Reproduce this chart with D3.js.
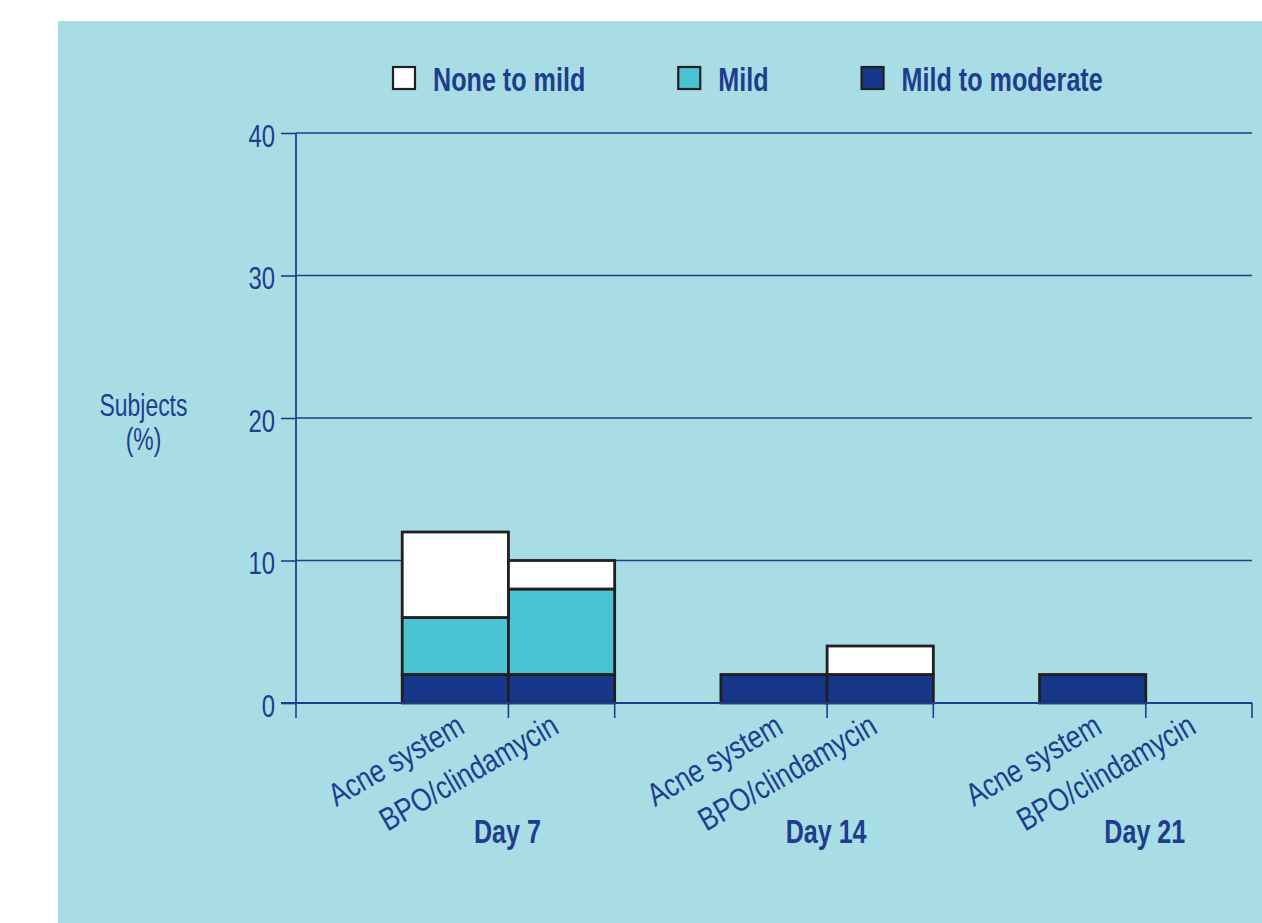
<!DOCTYPE html>
<html>
<head>
<meta charset="utf-8">
<script src="https://cdn.jsdelivr.net/npm/d3@7"></script>
<style>
  body { margin: 0; background: #ffffff; }
  svg text { font-family: "Liberation Sans", Arial, Helvetica, sans-serif; fill: #1f3d8e; }
</style>
</head>
<body>
<svg width="1262" height="923"></svg>
<script>
// data
const days = ["Day 7", "Day 14", "Day 21"];
const treatments = ["Acne system", "BPO/clindamycin"];
// severity levels, stacked bottom to top
const severities = ["Mild to moderate", "Mild", "None to mild"];
// one value per day x treatment (Day 7 acne, Day 7 bpo, Day 14 acne, ...)
const mildToModerate = [2, 2, 2, 2, 2, 0];
const mild = [4, 6, 0, 0, 0, 0];
const noneToMild = [6, 2, 0, 2, 0, 0];
const yTicks = [0, 10, 20, 30, 40];
// legend reads top severity first
const legendOrder = ["None to mild", "Mild", "Mild to moderate"];

let colors = {
  "Mild to moderate": "#17378a",
  "Mild": "#4ac4d3",
  "None to mild": "#ffffff"
};
let ink = "#1f3d8e";

// the original uses a condensed face, so squeeze a normal one sideways
let narrow = function(x, y, sx, angle) {
  return "translate(" + x + "," + y + ")" + (angle ? "rotate(" + angle + ")" : "") + "scale(" + sx + ",1)";
};

let svg = d3.select("svg");

// light blue panel
svg.append("rect")
  .attr("x", 58).attr("y", 21)
  .attr("width", 1262 - 58).attr("height", 923 - 21)
  .attr("fill", "#a8dde6");

let margin = { top: 133, right: 10, bottom: 220, left: 296 };
let plotWidth = 1252 - margin.left;
let plotHeight = 703 - margin.top;

let plot = svg.append("g")
  .attr("transform", "translate(" + margin.left + "," + margin.top + ")");

let yScale = d3.scaleLinear().domain([0, 40]).range([plotHeight, 0]);

// each day group has an empty slot then the two treatments
let dayScale = d3.scaleBand().domain(days).range([0, plotWidth]).padding(0);
let treatScale = d3.scaleBand()
  .domain(treatments)
  .range([dayScale.bandwidth() / 3, dayScale.bandwidth()])
  .padding(0);

// build rows for stacking
let rows = [];
days.forEach((day, i) => {
  treatments.forEach((t, j) => {
    let k = i * treatments.length + j;
    rows.push({
      day: day,
      treatment: t,
      "Mild to moderate": mildToModerate[k],
      "Mild": mild[k],
      "None to mild": noneToMild[k]
    });
  });
});

let series = d3.stack().keys(severities)(rows);

// gridlines
plot.append("g").selectAll("line")
  .data(yTicks.filter(d => d > 0))
  .join("line")
  .attr("x1", 0).attr("x2", plotWidth)
  .attr("y1", d => yScale(d)).attr("y2", d => yScale(d))
  .attr("stroke", ink).attr("stroke-width", 1.6);

// y axis
let yAxis = d3.axisLeft(yScale).tickValues(yTicks).tickSize(15).tickPadding(6);
let yGroup = plot.append("g").call(yAxis);
yGroup.select(".domain").remove();
yGroup.selectAll(".tick line").attr("stroke", ink).attr("stroke-width", 1.6);
yGroup.selectAll(".tick text")
  .attr("font-size", 31)
  .attr("fill", ink)
  .attr("x", null).attr("dy", null)
  .attr("transform", narrow(-21, 13, 0.77));
plot.append("line")
  .attr("x1", 0).attr("x2", 0).attr("y1", 0).attr("y2", plotHeight)
  .attr("stroke", ink).attr("stroke-width", 1.8);

// bars
plot.append("g").selectAll("g")
  .data(series)
  .join("g")
  .attr("fill", d => colors[d.key])
  .selectAll("rect")
  .data(d => d.filter(p => p[1] - p[0] > 0))
  .join("rect")
  .attr("x", d => dayScale(d.data.day) + treatScale(d.data.treatment))
  .attr("width", treatScale.bandwidth())
  .attr("y", d => yScale(d[1]))
  .attr("height", d => yScale(d[0]) - yScale(d[1]))
  .attr("stroke", "#231f20")
  .attr("stroke-width", 2.8);

// x axis line and slot ticks
plot.append("line")
  .attr("x1", -15).attr("x2", plotWidth)
  .attr("y1", plotHeight).attr("y2", plotHeight)
  .attr("stroke", ink).attr("stroke-width", 1.8);

let tickXs = [];
days.forEach(day => {
  tickXs.push(dayScale(day));
  treatments.forEach(t => tickXs.push(dayScale(day) + treatScale(t) + treatScale.bandwidth()));
});
tickXs.push(plotWidth);
tickXs = Array.from(new Set(tickXs.map(v => Math.round(v * 10) / 10)));

plot.append("g").selectAll("line")
  .data(tickXs)
  .join("line")
  .attr("x1", d => d).attr("x2", d => d)
  .attr("y1", plotHeight).attr("y2", plotHeight + 15)
  .attr("stroke", ink).attr("stroke-width", 1.6);

// rotated treatment labels, ending near each bar
let labelShift = { "Acne system": 11, "BPO/clindamycin": -1 };
plot.append("g").selectAll("text")
  .data(rows)
  .join("text")
  .attr("text-anchor", "end")
  .attr("font-size", 32)
  .attr("transform", r => narrow(
    dayScale(r.day) + treatScale(r.treatment) + treatScale.bandwidth() / 2 + labelShift[r.treatment],
    plotHeight + 29, 0.82, -30))
  .text(r => r.treatment);

// day labels, centred between the two bars
plot.append("g").selectAll("text")
  .data(days)
  .join("text")
  .attr("text-anchor", "middle")
  .attr("font-size", 33)
  .attr("font-weight", "bold")
  .attr("transform", d => narrow(dayScale(d) + treatScale(treatments[1]) - 1, plotHeight + 140, 0.76))
  .text(d => d);

// y axis title
svg.append("text")
  .attr("text-anchor", "middle")
  .attr("font-size", 31)
  .attr("transform", narrow(143.5, 416, 0.74))
  .text("Subjects");
svg.append("text")
  .attr("text-anchor", "middle")
  .attr("font-size", 31)
  .attr("transform", narrow(143.5, 450, 0.74))
  .text("(%)");

// legend
let legend = svg.append("g").attr("transform", "translate(393,67)");
let lx = 0;
legendOrder.forEach(key => {
  legend.append("rect")
    .attr("x", lx).attr("y", 0)
    .attr("width", 22).attr("height", 22)
    .attr("fill", colors[key])
    .attr("stroke", "#231f20").attr("stroke-width", 2.2);
  let t = legend.append("text")
    .attr("font-size", 34)
    .attr("font-weight", "bold")
    .attr("transform", narrow(lx + 40, 24, 0.74))
    .text(key);
  lx += 40 + t.node().getComputedTextLength() * 0.74 + 93;
});
</script>
</body>
</html>
